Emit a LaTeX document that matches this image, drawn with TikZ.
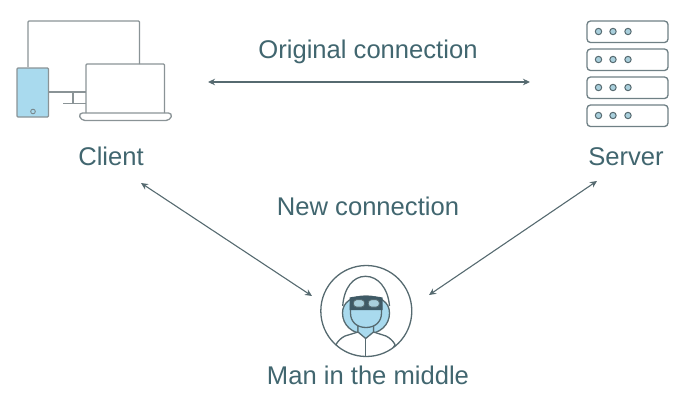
\documentclass[tikz,border=0pt]{standalone}
\usepackage{fontspec}
\setmainfont{Liberation Sans}
\definecolor{ink}{HTML}{41666F}
\definecolor{lineg}{HTML}{8A9396}
\definecolor{dark}{HTML}{566A70}
\definecolor{band}{HTML}{3F5A66}
\definecolor{blue}{HTML}{A9DAEE}
\definecolor{dot}{HTML}{A9CFDC}
\usetikzlibrary{arrows.meta}
\tikzset{
  lbl/.style={text=ink,font=\fontsize{25.6pt}{30pt}\selectfont,inner sep=0pt,anchor=base},
  dev/.style={draw=lineg,line width=1.3pt,rounded corners=1pt,line join=round},
  rack/.style={draw=dark!85,line width=1.3pt,rounded corners=3.5pt,fill=white},
  led/.style={draw=dark,line width=1pt,fill=dot},
  link/.style={draw=dark,line width=1.1pt,{Stealth[length=7pt,width=6.5pt]}-{Stealth[length=7pt,width=6.5pt]}},
  man/.style={draw=dark,line width=1.3pt,line join=round}
}
\begin{document}
\begin{tikzpicture}[x=1pt,y=-1pt]
\useasboundingbox (0,0) rectangle (691,405);
% client
\draw[dev] (28,67) -- (28,21) -- (139.5,21) -- (139.5,64);
\draw[dev,fill=blue] (17,68) rectangle (48.5,117);
\draw[dark!80,line width=.9pt] (33,111.5) circle (2.3);
\draw[dev] (48.5,92) -- (86,92);
\draw[dev] (63,103.5) -- (86,103.5) (73,92) -- (73,103.5);
\draw[dev] (86,113) -- (86,64) -- (164.5,64) -- (164.5,113);
\draw[dev,rounded corners=4pt] (78.5,113) -- (172.5,113) -- (170,120.5) -- (81,120.5) -- cycle;
% server
\foreach \y in {21,49,77,105}{
  \draw[rack] (587,\y) rectangle (668,\y+21.5);
  \foreach \x in {598.5,613,628}{\draw[led] (\x,\y+10.5) circle (3.2);}
}
% labels
\node[lbl] (orig) at (368,58.5) {Original connection};
\node[lbl] (new) at (368,215) {New connection};
\node[lbl] (cli) at (111,165.5) {Client};
\node[lbl] (srv) at (626,165.5) {Server};
\node[lbl] (mitm) at (368,384) {Man in the middle};
% connection anchors
\coordinate (a1) at (208,82);
\coordinate (a2) at (530,82);
\coordinate (b1) at (141,183);
\coordinate (b2) at (312,296);
\coordinate (c1) at (597,181);
\coordinate (c2) at (429,295);
\draw[link] (a1) -- (a2);
\draw[link] (b1) -- (b2);
\draw[link] (c1) -- (c2);
% man
\coordinate (mc) at (366.3,311);
\begin{scope}
\clip (mc) circle (45.5);
\draw[man] (342.7,306) .. controls (344,288) and (353,276.3) .. (365.5,276.3) .. controls (378,276.3) and (388,288) .. (389.5,306);
\draw[man,fill=blue] (366,296) .. controls (352,296) and (342.5,302) .. (342.5,313) .. controls (342.5,325) and (352,334) .. (366,334) .. controls (380,334) and (389.5,325) .. (389.5,313) .. controls (389.5,302) and (380,296) .. (366,296) -- cycle;
\draw[man,fill=white] (358,325) -- (358,332) -- (345,336) .. controls (341,338) and (338,341) .. (336,344.5) -- (346,360) -- (346,370) -- (387,370) -- (387,360) -- (395,344.5) .. controls (393,341) and (390,338) .. (386,336) -- (373.5,332) -- (373.5,325) -- cycle;
\draw[man,fill=blue] (358,326) -- (358,332) -- (365.7,338.5) -- (373.5,332) -- (373.5,326) -- cycle;
\draw[man,fill=blue] (350.5,305) -- (350.5,313) .. controls (350.5,322) and (357,327.5) .. (366,327.5) .. controls (375,327.5) and (381.5,322) .. (381.5,313) -- (381.5,305) -- cycle;
\fill[band] (349.5,297.5) .. controls (358,295.5) and (374,295.5) .. (382.5,297.5) -- (382.5,310) -- (349.5,310) -- cycle;
\draw[man,fill=dot,rounded corners=3pt,line width=.8pt] (353.5,299.8) rectangle (364.5,307);
\draw[man,fill=dot,rounded corners=3pt,line width=.8pt] (368.3,299.8) rectangle (379.3,307);
\draw[man] (365.7,338.5) -- (365.7,360);
\end{scope}
\draw[man] (mc) circle (45.5);
\end{tikzpicture}
\end{document}
